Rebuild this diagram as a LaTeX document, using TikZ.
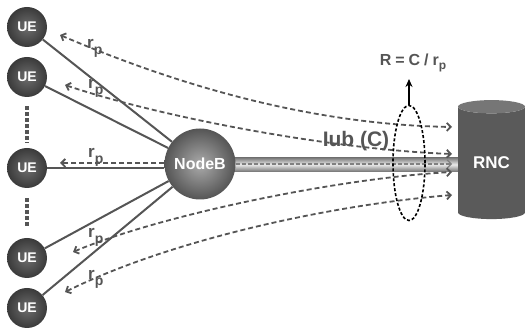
\documentclass[tikz,border=0pt]{standalone}
\usepackage{fontspec}
\setmainfont{Liberation Sans}
\usetikzlibrary{arrows.meta,shapes.geometric,backgrounds}
\definecolor{lg}{HTML}{555555}
\definecolor{uein}{HTML}{6E6E6E}
\definecolor{ueout}{HTML}{3A3A3A}
\definecolor{nbin}{HTML}{ABABAB}
\definecolor{nbout}{HTML}{555555}
\definecolor{cylbody}{HTML}{5A5A5A}
\definecolor{cyltop}{HTML}{767676}
\definecolor{pipedark}{HTML}{767676}
\newcommand{\rplabel}{r\raisebox{-6pt}{\fontsize{14}{14}\selectfont p}}
\tikzset{barb/.tip={Straight Barb[length=4pt,width=8pt]}}
\begin{document}
\begin{tikzpicture}[x=1pt,y=-1pt,
  ue/.style={circle, minimum size=40, inner sep=0pt, inner color=uein, outer color=ueout, text=white, font=\bfseries\fontsize{14}{14}\selectfont},
  nbstyle/.style={circle, minimum size=71, inner sep=0pt, inner color=nbin, outer color=nbout, text=white, font=\bfseries\fontsize{16}{16}\selectfont},
  link/.style={draw=lg, line width=2pt},
  dsh/.style={draw=lg, line width=1.8pt, dash pattern=on 5pt off 3pt},
  rp/.style={anchor=base west, inner sep=0pt, text=lg, font=\bfseries\fontsize{17}{17}\selectfont},
  vdots/.style={draw=lg, line width=3.5pt, dash pattern=on 3.5pt off 2.5pt}
]
\useasboundingbox (0,0) rectangle (525,328);

% nodes
\node[ue] (ue1) at (27,27) {UE};
\node[ue] (ue2) at (27,77) {UE};
\node[ue] (ue3) at (27,168) {UE};
\node[ue] (ue4) at (27,258) {UE};
\node[ue] (ue5) at (27,308) {UE};
\node[nbstyle] (nb) at (200,164) {NodeB};
\node[cylinder, shape border rotate=90, aspect=0.36, minimum width=67, minimum height=119,
      inner sep=0pt, cylinder uses custom fill, cylinder body fill=cylbody, cylinder end fill=cyltop,
      text=white, font=\bfseries\fontsize{17}{17}\selectfont] (rnc) at (491.5,163) {RNC};

% pipe (Iub)
\begin{scope}[on background layer]
\shade[top color=pipedark, bottom color=pipedark, middle color=white!92!black] (200,157.5) rectangle (458,171.5);
\end{scope}
\draw[draw=gray, line width=1.2pt, dash pattern=on 4pt off 2pt, -{barb}] (nb.east) -- (452,164);

% solid links
\draw[link] (ue1) -- (nb);
\draw[link] (ue2) -- (nb);
\draw[link] (ue3.east) -- (ue3.east -| nb.west);
\draw[link] (ue4) -- (nb);
\draw[link] (ue5) -- (nb);

% vertical dots
\draw[vdots] ([yshift=-9pt]ue2.south) -- ([yshift=5pt]ue3.north);
\draw[vdots] ([yshift=-10pt]ue3.south) -- ([yshift=10pt]ue4.north);

% free ends
\coordinate (u1) at (60,35);
\coordinate (u2) at (65,85);
\coordinate (u3) at (60,163);
\coordinate (u4) at (73,252);
\coordinate (u5) at (65,292);
\coordinate (r1) at (452,127);
\coordinate (r2) at (452,154);
\coordinate (r4) at (452,172);
\coordinate (r5) at (452,195);

% dashed flows
\draw[dsh, {barb}-{barb}] (u1) .. controls (200,95) and (330,125) .. (r1);
\draw[dsh, {barb}-{barb}] (u2) .. controls (170,120) and (340,150) .. (r2);
\draw[dsh, -{barb}] ([yshift=1pt]nb.west) -- (u3);
\draw[dsh, {barb}-{barb}] (u4) .. controls (160,215) and (340,178) .. (r4);
\draw[dsh, {barb}-{barb}] (u5) .. controls (170,240) and (330,205) .. (r5);

% r_p labels
\node[rp] (l1) at (87,49) {\rplabel};
\node[rp] (l2) at (88,89) {\rplabel};
\node[rp] (l3) at (88,158) {\rplabel};
\node[rp] (l4) at (88,238) {\rplabel};
\node[rp] (l5) at (88,280) {\rplabel};

% Iub label
\node[text=lg, font=\bfseries\fontsize{21}{21}\selectfont, inner sep=0pt] (iub) at (356,141) {Iub (C)};

% ring and rate
\node[ellipse, draw=black, line width=1.6pt, dash pattern=on 3pt off 2pt, minimum width=32, minimum height=115, inner sep=0pt] (ring) at (409,163) {};
\node[text=lg, font=\bfseries\fontsize{16}{16}\selectfont, inner sep=0pt] (rate) at (413,63) {R\hspace{4pt}=\hspace{4pt}C\hspace{4pt}/\hspace{4pt}r\raisebox{-4pt}{\fontsize{12}{12}\selectfont p}};
\coordinate (rtip) at (409,79);
\draw[black, line width=1.8pt, -{Stealth[length=8pt,width=7pt]}] (ring.north) -- (rtip);
\end{tikzpicture}
\end{document}
